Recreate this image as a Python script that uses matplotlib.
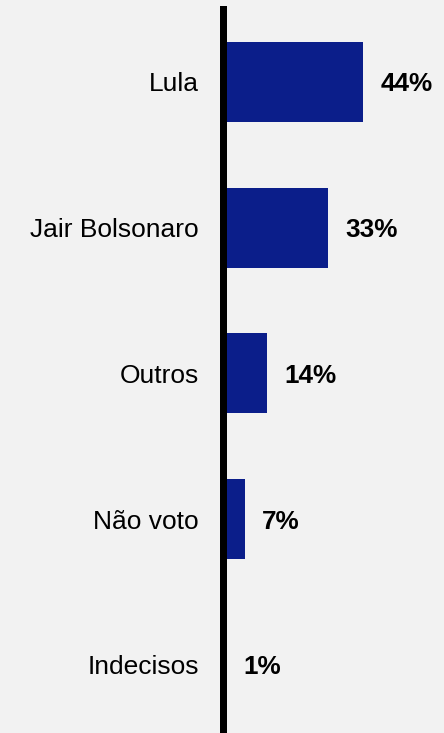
import matplotlib
matplotlib.use("Agg")
import matplotlib.pyplot as plt

categories = ["Lula", "Jair Bolsonaro", "Outros", "Não voto", "Indecisos"]
values = [44, 33, 14, 7, 1]
value_labels = ["44%", "33%", "14%", "7%", "1%"]

plt.rcParams['font.family'] = ['Liberation Sans', 'DejaVu Sans']

bg = "#F2F2F2"
bar_color = "#0B1E8A"

fig = plt.figure(figsize=(4.44, 7.33), dpi=100, facecolor=bg)
ax = fig.add_axes([222.5 / 444, 0.0, 221.5 / 444, 724 / 733])
ax.set_facecolor(bg)

pos = list(range(len(categories)))
ax.barh(pos, values, height=0.55, color=bar_color, zorder=1)

for p, v, lab in zip(pos, values, value_labels):
    ax.annotate(lab, xy=(v, p), xytext=(12.5, -1.8), textcoords="offset points",
                ha="left", va="center", fontsize=18.8, fontweight="bold",
                color="black")

ax.set_xlim(0, 221.5 / 3.19)
ax.set_ylim(4.467, -0.50)

ax.set_yticks(pos)
ax.set_yticklabels(categories, fontsize=19, color="black")
ax.tick_params(axis="y", length=0, pad=17)
ax.set_xticks([])

for s in ["top", "right", "bottom"]:
    ax.spines[s].set_visible(False)
ax.spines["left"].set_linewidth(5.04)
ax.spines["left"].set_color("black")
ax.spines["left"].set_zorder(3)

fig.savefig("out.png", dpi=100, facecolor=bg)
